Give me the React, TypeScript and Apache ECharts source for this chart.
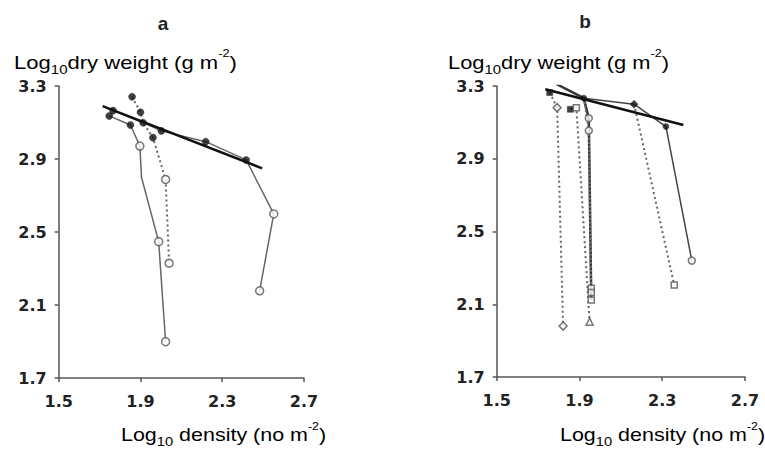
import React, { useEffect, useRef } from "react";
import * as echarts from "echarts";

const xTicks = [1.5, 1.9, 2.3, 2.7];
const yTicks = [1.7, 2.1, 2.5, 2.9, 3.3];

// Panel a
const aRegression = [[1.715, 3.19], [2.495, 2.849]];
const aSolidLeft = [[1.747, 3.136], [1.851, 3.086], [1.897, 2.971], [1.905, 2.8], [1.989, 2.447], [2.023, 1.899]];
const aDotted = [[1.859, 3.241], [1.9, 3.156], [1.913, 3.099], [1.961, 3.017], [2.023, 2.788], [2.04, 2.329]];
const aSolidRight = [[1.766, 3.165], [1.913, 3.099], [2.002, 3.054], [2.219, 2.995], [2.417, 2.895], [2.552, 2.599], [2.483, 2.178]];
const aFilled = [[1.859, 3.241], [1.9, 3.156], [1.766, 3.165], [1.747, 3.136], [1.851, 3.086], [1.913, 3.099], [1.961, 3.017], [2.002, 3.054], [2.219, 2.995], [2.417, 2.895]];
const aOpen = [[1.897, 2.971], [2.023, 2.788], [1.989, 2.447], [2.04, 2.329], [2.023, 1.899], [2.552, 2.599], [2.483, 2.178]];

// Panel b
const bRegression = [[1.735, 3.282], [2.402, 3.086]];
const bDottedLeft = [[1.756, 3.264], [1.792, 3.181], [1.821, 1.98]];
const bDottedSecond = [[1.856, 3.172], [1.885, 3.181], [1.949, 2.004]];
const bSolidMid = [[1.788, 3.311], [1.921, 3.233], [1.945, 3.123], [1.957, 2.124]];
const bDottedMid = [[1.921, 3.233], [1.945, 3.055], [1.957, 2.164]];
const bSolidRight = [[1.921, 3.233], [2.164, 3.2], [2.318, 3.077], [2.443, 2.34]];
const bDottedRight = [[2.164, 3.2], [2.358, 2.206]];
const bFilledCircle = [[1.788, 3.311], [1.921, 3.233], [2.318, 3.077]];
const bFilledSquare = [[1.756, 3.264], [1.856, 3.172]];
const bFilledDiamond = [[2.164, 3.2]];
const bOpenCircle = [[1.945, 3.123], [1.945, 3.055], [2.443, 2.34]];
const bOpenSquare = [[1.885, 3.181], [1.957, 2.188], [1.957, 2.164], [1.957, 2.124], [2.358, 2.206]];
const bOpenDiamond = [[1.792, 3.181], [1.821, 1.98]];
const bOpenTriangle = [[1.949, 2.004]];

const FONT = "Liberation Sans, Arial, sans-serif";
const AXIS = "#555";
const LINE = "#666";

function lineSeries(data: number[][], idx: number, type: any, width: number, color: string, z = 2) {
  return {
    type: "line",
    data,
    xAxisIndex: idx,
    yAxisIndex: idx,
    showSymbol: false,
    symbol: "none",
    lineStyle: { color, width, type },
    z,
  };
}

function scatterSeries(data: number[][], idx: number, symbol: string, size: number, filled: boolean) {
  return {
    type: "scatter",
    data,
    xAxisIndex: idx,
    yAxisIndex: idx,
    symbol,
    symbolSize: size,
    itemStyle: filled
      ? { color: "#111", borderColor: "#111", borderWidth: 0.5 }
      : { color: "#fff", borderColor: "#555", borderWidth: 1.5 },
    z: 5,
  };
}

const tickLabel = {
  fontFamily: "DejaVu Sans",
  fontWeight: "bold",
  fontSize: 16,
  color: "#222",
};

function xAxis(idx: number) {
  return {
    type: "value",
    gridIndex: idx,
    min: 1.5,
    max: 2.7,
    splitLine: { show: false },
    axisLine: { show: true, onZero: false, lineStyle: { color: AXIS, width: 1.5 } },
    axisTick: { show: true, customValues: xTicks, length: 4, lineStyle: { color: AXIS, width: 1.5 } },
    axisLabel: {
      customValues: xTicks,
      formatter: (v: number) => v.toFixed(1),
      ...tickLabel,
      margin: 15,
    },
  };
}

function yAxis(idx: number) {
  return {
    type: "value",
    gridIndex: idx,
    min: 1.7,
    max: 3.3,
    splitLine: { show: false },
    axisLine: { show: true, onZero: false, lineStyle: { color: AXIS, width: 1.5 } },
    axisTick: { show: true, customValues: yTicks, length: 4, lineStyle: { color: AXIS, width: 1.5 } },
    axisLabel: {
      customValues: yTicks,
      formatter: (v: number) => v.toFixed(1),
      ...tickLabel,
      margin: 12,
    },
  };
}

const richName = {
  b: { fontSize: 19, fontFamily: FONT, color: "#222", lineHeight: 28 },
  s: { fontSize: 13, fontFamily: FONT, color: "#222", verticalAlign: "bottom" },
  p: { fontSize: 11, fontFamily: FONT, color: "#222", verticalAlign: "top" },
};

function nameText(x: number, y: number, text: string, sx: number) {
  return {
    type: "text",
    x,
    y,
    scaleX: sx,
    style: { text, rich: richName, verticalAlign: "middle", align: "left" },
  };
}

export default function App() {
  const ref = useRef<HTMLDivElement>(null);
  useEffect(() => {
    if (!ref.current) return;
    const chart = echarts.init(ref.current, null, { renderer: "svg" });
    chart.setOption({
      animation: false,
      backgroundColor: "#fff",
      grid: [
        { left: 58.7, right: 461, top: 86, bottom: 80 },
        { left: 496.7, right: 20, top: 86, bottom: 81 },
      ],
      xAxis: [xAxis(0), xAxis(1)],
      yAxis: [yAxis(0), yAxis(1)],
      graphic: [
        { type: "text", x: 163, y: 23, style: { text: "a", font: "bold 19px " + FONT, fill: "#222", align: "center", verticalAlign: "middle" } },
        { type: "text", x: 585, y: 21, style: { text: "b", font: "bold 19px " + FONT, fill: "#222", align: "center", verticalAlign: "middle" } },
        nameText(14, 62, "{b|Log}{s|10}{b|dry weight (g m}{p|-2}{b|)}", 1.16),
        nameText(448, 62, "{b|Log}{s|10}{b|dry weight (g m}{p|-2}{b|)}", 1.15),
        nameText(121, 434, "{b|Log}{s|10}{b| density (no m}{p|-2}{b|)}", 1.13),
        nameText(560, 434, "{b|Log}{s|10}{b| density (no m}{p|-2}{b|)}", 1.13),
      ],
      series: [
        lineSeries(aSolidLeft, 0, "solid", 1.5, LINE),
        lineSeries(aDotted, 0, [2, 3], 2, LINE),
        lineSeries(aSolidRight, 0, "solid", 1.5, LINE),
        lineSeries(aRegression, 0, "solid", 2.5, "#111", 4),
        scatterSeries(aFilled, 0, "circle", 7, true),
        scatterSeries(aOpen, 0, "circle", 8, false),

        lineSeries(bDottedLeft, 1, [2, 3], 2, LINE),
        lineSeries(bDottedSecond, 1, [2, 3], 2, LINE),
        lineSeries(bSolidMid, 1, "solid", 2.5, "#333"),
        lineSeries(bDottedMid, 1, [2, 2], 2, "#777"),
        lineSeries(bSolidRight, 1, "solid", 1.5, "#444"),
        lineSeries(bDottedRight, 1, [2, 3], 2, LINE),
        lineSeries(bRegression, 1, "solid", 2.5, "#111", 4),
        scatterSeries(bFilledCircle, 1, "circle", 6, true),
        scatterSeries(bFilledSquare, 1, "rect", 6, true),
        scatterSeries(bFilledDiamond, 1, "diamond", 8, true),
        scatterSeries(bOpenCircle, 1, "circle", 7, false),
        scatterSeries(bOpenSquare, 1, "rect", 6, false),
        scatterSeries(bOpenDiamond, 1, "diamond", 8, false),
        scatterSeries(bOpenTriangle, 1, "triangle", 7, false),
      ],
    });
    return () => chart.dispose();
  }, []);
  return <div ref={ref} style={{ position: "fixed", left: 0, top: 0, width: 765, height: 458 }} />;
}
